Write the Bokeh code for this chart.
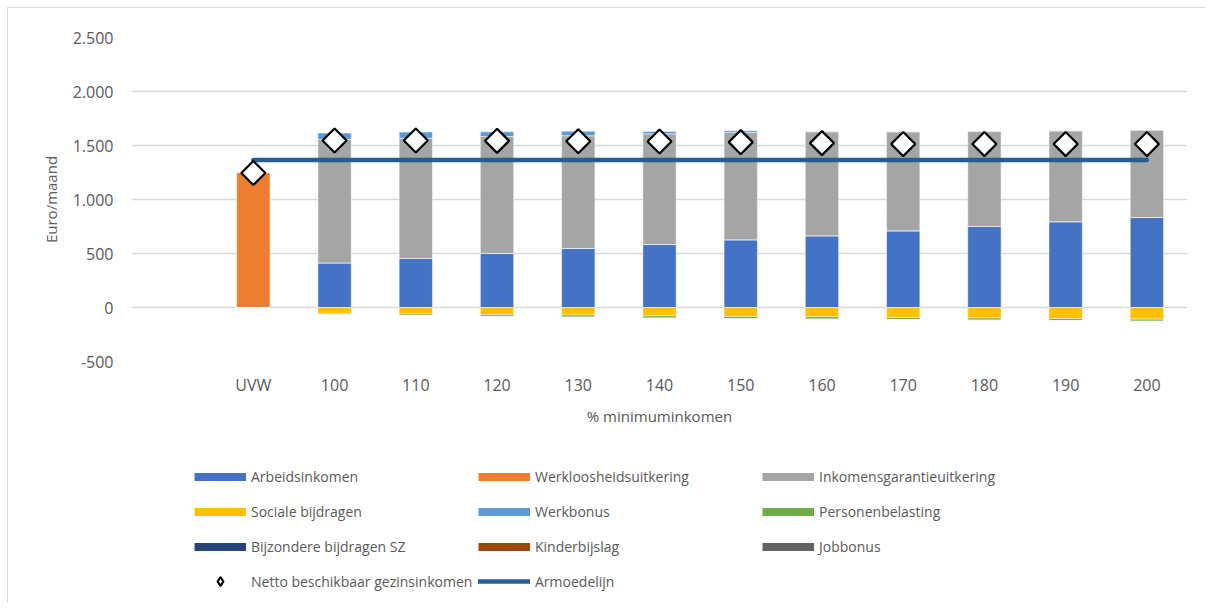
from bokeh.plotting import figure
from bokeh.models import Legend, LegendItem, FactorRange, Range1d, FixedTicker
from bokeh.layouts import column
from bokeh.embed import file_html
from bokeh.resources import INLINE
import numpy as np

# ---------------- data ----------------
categories = ["UVW", "100", "110", "120", "130", "140", "150", "160", "170", "180", "190", "200"]
arbeidsinkomen = [0, 413, 454, 500, 546, 583, 627, 664, 710, 750, 794, 833]
werkloosheid = [1250, 0, 0, 0, 0, 0, 0, 0, 0, 0, 0, 0]
inkomensgarantie = [0, 1143, 1114, 1083, 1044, 1025, 993, 963, 917, 883, 842, 810]
werkbonus = [0, 59, 56, 44, 43, 22, 16, 3, 0, 0, 0, 0]
sociale_bijdragen = [0, -55, -61, -68, -70, -77, -83, -86, -93, -98, -102, -108]
personenbelasting = [0, -12, -13, -15, -19, -21, -21, -22, -18, -19, -18, -19]
bijzondere_bijdragen = [0, 0, 0, 0, 0, 0, 0, 0, 0, 0, 0, 0]
kinderbijslag = [0, 0, 0, 0, 0, 0, 0, 0, 0, 0, 0, 0]
jobbonus = [0, 0, 0, 0, 0, 0, 0, 0, 0, 0, 0, 0]
netto = [1245, 1547, 1547, 1543, 1540, 1537, 1531, 1522, 1513, 1513, 1513, 1513]
armoedelijn = [1365, 1365, 1365, 1365, 1365, 1365, 1365, 1365, 1365, 1365, 1365, 1365]

y_ticks = [-500, 0, 500, 1000, 1500, 2000, 2500]
y_tick_labels = ["-500", "0", "500", "1.000", "1.500", "2.000", "2.500"]

# ---------------- styling ----------------
FONT = "Open Sans"
TXT = "#595959"
C_ARB = "#4472C4"
C_WERKL = "#ED7D31"
C_INK = "#A5A5A5"
C_SOC = "#FFC000"
C_WB = "#5B9BD5"
C_PB = "#70AD47"
C_BZ = "#264478"
C_KB = "#9E480E"
C_JB = "#636363"
C_ARM = "#255E91"

factors = [" "] + categories

p = figure(
    x_range=FactorRange(*factors, range_padding=0),
    y_range=Range1d(-500, 2500),
    width=1197, height=433,
    min_border_left=123, min_border_right=18,
    min_border_top=29, min_border_bottom=80,
    output_backend="svg", toolbar_location=None,
    outline_line_color=None,
)

# positive stack
pos_series = [arbeidsinkomen, werkloosheid, inkomensgarantie, werkbonus]
pos_colors = [C_ARB, C_WERKL, C_INK, C_WB]
bottom = np.zeros(len(categories))
for vals, col in zip(pos_series, pos_colors):
    v = np.array(vals, dtype=float)
    p.vbar(x=categories, bottom=bottom, top=bottom + v, width=0.41,
           fill_color=col, line_color="white", line_width=0.8, line_alpha=0.6)
    bottom = bottom + v

# negative stack
neg_series = [sociale_bijdragen, personenbelasting, bijzondere_bijdragen]
neg_colors = [C_SOC, C_PB, C_BZ]
nb = np.zeros(len(categories))
for vals, col in zip(neg_series, neg_colors):
    v = np.array(vals, dtype=float)
    p.vbar(x=categories, top=nb, bottom=nb + v, width=0.41,
           fill_color=col, line_color="white", line_width=0.8, line_alpha=0.6)
    nb = nb + v

# poverty line
p.line(x=categories, y=armoedelijn, line_color=C_ARM, line_width=4.5, line_cap="round")

# net income markers
p.scatter(x=categories, y=netto, marker="square", size=17, angle=np.pi / 4,
          fill_color="white", line_color="black", line_width=2.2)

# ---------------- axes & grid ----------------
p.xgrid.grid_line_color = None
p.ygrid.grid_line_color = "#D9D9D9"
p.ygrid.grid_line_width = 1.3
p.yaxis.ticker = FixedTicker(ticks=y_ticks)
p.yaxis.major_label_overrides = {t: l for t, l in zip(y_ticks, y_tick_labels)}

for ax in (p.xaxis[0], p.yaxis[0]):
    ax.axis_line_color = None
    ax.major_tick_line_color = None
    ax.minor_tick_line_color = None
    ax.major_label_text_font = FONT
    ax.major_label_text_font_size = "16px"
    ax.major_label_text_color = TXT
    ax.axis_label_text_font = FONT
    ax.axis_label_text_font_size = "15px"
    ax.axis_label_text_color = TXT
    ax.axis_label_text_font_style = "normal"

p.yaxis.axis_label = "Euro/maand"
p.yaxis.major_label_standoff = 12
p.yaxis.axis_label_standoff = 9
p.xaxis.axis_label = "% minimuminkomen"
p.xaxis.major_label_standoff = 6
p.xaxis.axis_label_standoff = 7

# ---------------- legend (own panel below the chart) ----------------
pl = figure(
    x_range=Range1d(0, 1), y_range=Range1d(0, 1),
    width=1197, height=161,
    min_border_left=0, min_border_right=0, min_border_top=0, min_border_bottom=0,
    output_backend="svg", toolbar_location=None,
    outline_line_color=None,
)
pl.axis.visible = False
pl.grid.visible = False

NAN = [np.nan]


def dummy_bar(col):
    return pl.line(x=NAN, y=NAN, line_color=col, line_width=8, line_cap="butt")


items_main = [
    LegendItem(label="Arbeidsinkomen", renderers=[dummy_bar(C_ARB)]),
    LegendItem(label="Werkloosheidsuitkering", renderers=[dummy_bar(C_WERKL)]),
    LegendItem(label="Inkomensgarantieuitkering", renderers=[dummy_bar(C_INK)]),
    LegendItem(label="Sociale bijdragen", renderers=[dummy_bar(C_SOC)]),
    LegendItem(label="Werkbonus", renderers=[dummy_bar(C_WB)]),
    LegendItem(label="Personenbelasting", renderers=[dummy_bar(C_PB)]),
    LegendItem(label="Bijzondere bijdragen SZ", renderers=[dummy_bar(C_BZ)]),
    LegendItem(label="Kinderbijslag", renderers=[dummy_bar(C_KB)]),
    LegendItem(label="Jobbonus", renderers=[dummy_bar(C_JB)]),
]
items_lines = [
    LegendItem(label="Netto beschikbaar gezinsinkomen",
               renderers=[pl.scatter(x=NAN, y=NAN, marker="diamond", size=8,
                                     fill_color="white", line_color="black", line_width=2.2)]),
    LegendItem(label="Armoedelijn",
               renderers=[pl.line(x=NAN, y=NAN, line_color=C_ARM, line_width=4.5, line_cap="round")]),
]

common = dict(
    orientation="horizontal", ncols=3,
    glyph_width=52, label_width=227,
    label_standoff=5, spacing=0, padding=0, margin=0,
    border_line_color=None, background_fill_alpha=0,
    label_text_font=FONT, label_text_font_size="14px", label_text_color=TXT,
)
legend_main = Legend(items=items_main, location=(63, 38),
                     glyph_height=35, label_height=35, **common)
legend_lines = Legend(items=items_lines, location=(63, 10),
                      glyph_height=22, label_height=22, **common)
pl.add_layout(legend_main, "center")
pl.add_layout(legend_lines, "center")

layout = column(p, pl, spacing=0)
layout.styles = {
    "margin-left": "7px", "margin-top": "7px",
    "border-left": "1px solid #D9D9D9", "border-top": "1px solid #D9D9D9",
}

open("out.html", "w").write(file_html(layout, INLINE))
